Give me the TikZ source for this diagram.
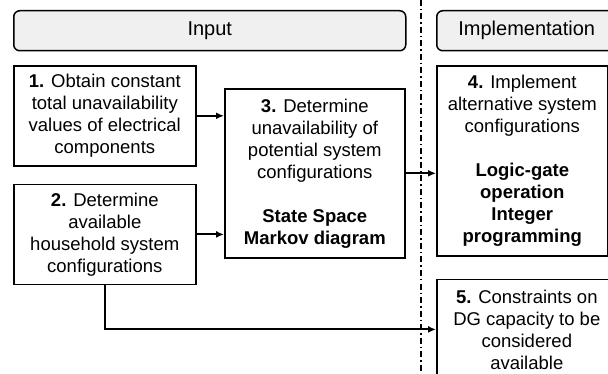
\documentclass[tikz,border=0pt]{standalone}
\usepackage{fontspec}
\setmainfont{Liberation Sans}
\usetikzlibrary{positioning, calc}
\usetikzlibrary{arrows, arrows.meta}
\tikzset{>={Latex[length=8pt,width=7pt]}}
\tikzset{
  stagebox/.style={draw, line width=1.6pt, inner sep=0pt, align=center, font=\fontsize{18.5}{22}\selectfont},
  headbox/.style={draw, line width=1.5pt, rounded corners=6pt, fill=gray!12, minimum height=40pt, inner sep=0pt, font=\fontsize{20}{24}\selectfont},
  flow/.style={->, line width=2pt},
}

\begin{document}
\begin{tikzpicture}[x=1pt, y=-1pt]
  \useasboundingbox (0,0) rectangle (608,374);

  % headers
  \node[headbox, minimum width=392pt, anchor=north west] (hin) at (13,10) {Input};
  \node[headbox, minimum width=180pt, anchor=north west] (himp) at (436,10) {Implementation};

  % phase separator
  \draw[line width=1.2pt, dash pattern=on 6pt off 3pt on 1.5pt off 3pt] (421,0) -- (421,374);

  % input steps
  \node[stagebox, minimum width=182pt, minimum height=100pt, anchor=north west] (s1) at (13,65)
    {\textbf{1.} Obtain constant\\total unavailability\\values of electrical\\components};
  \node[stagebox, minimum width=182pt, minimum height=100pt, below=17pt of s1] (s2)
    {\textbf{2.} Determine\\available\\household system\\configurations};
  \node[stagebox, minimum width=180pt, minimum height=169pt, anchor=north west] (s3) at (224,88)
    {\textbf{3.} Determine\\unavailability of\\potential system\\configurations\\[22pt]\textbf{State Space}\\\textbf{Markov diagram}};

  % implementation steps
  \node[stagebox, minimum width=171pt, minimum height=190pt, anchor=north west] (s4) at (436,65)
    {\textbf{4.} Implement\\alternative system\\configurations\\[22pt]\textbf{Logic-gate}\\\textbf{operation}\\\textbf{Integer}\\\textbf{programming}};
  \node[stagebox, minimum width=180pt, minimum height=100pt, below=22pt of s4.south west, anchor=north west] (s5)
    {\textbf{5.} Constraints on\\DG capacity to be\\considered\\available};

  \draw[flow] (s1.east) -- (s1.east -| s3.west);
  \draw[flow] (s2.east) -- (s2.east -| s3.west);
  \draw[flow] (s3.east) -- (s3.east -| s4.west);
  \draw[flow] (s2.south) |- (s5.west);
\end{tikzpicture}
\end{document}
